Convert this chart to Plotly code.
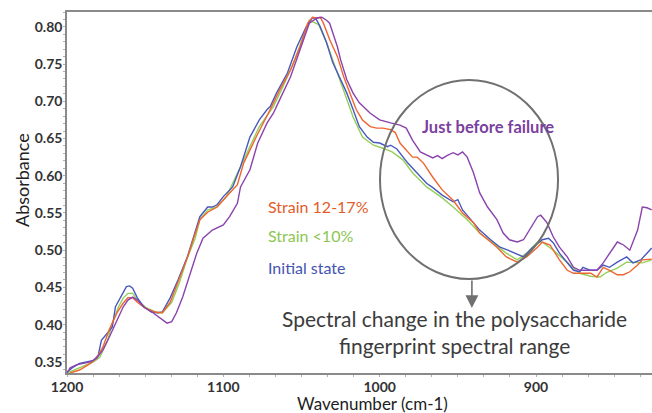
import plotly.graph_objects as go

# ---- data (wavenumber cm-1, absorbance) ----
wn_initial = [1200, 1196, 1192, 1183, 1180, 1178, 1174, 1171, 1169, 1165, 1162, 1160, 1158, 1155, 1151,
              1146, 1142, 1139, 1134, 1129, 1123, 1119, 1115, 1110, 1107, 1104, 1100, 1094, 1089, 1083,
              1077, 1072, 1070, 1066, 1059, 1053, 1047, 1043, 1041, 1038, 1034, 1030, 1025, 1021, 1017,
              1013, 1008, 1004, 1000, 995, 993, 989, 982, 976, 970, 966, 960, 953, 950, 947, 942, 936,
              929, 923, 918, 912, 908, 902, 896, 892, 889, 885, 880, 876, 872, 870, 865, 861, 857, 853,
              848, 842, 838, 833, 829, 826]
abs_initial = [0.336, 0.343, 0.348, 0.352, 0.359, 0.379, 0.389, 0.397, 0.424, 0.440, 0.451, 0.452, 0.449, 0.436, 0.424,
               0.417, 0.416, 0.417, 0.436, 0.460, 0.491, 0.518, 0.545, 0.558, 0.558, 0.561, 0.572, 0.585, 0.612, 0.652,
               0.675, 0.689, 0.693, 0.711, 0.738, 0.773, 0.800, 0.812, 0.812, 0.800, 0.779, 0.752, 0.729, 0.711, 0.689,
               0.666, 0.652, 0.645, 0.644, 0.639, 0.641, 0.636, 0.617, 0.604, 0.590, 0.584, 0.574, 0.565, 0.568, 0.554, 0.541, 0.527,
               0.514, 0.504, 0.500, 0.494, 0.491, 0.504, 0.514, 0.516, 0.510, 0.496, 0.483, 0.473, 0.471, 0.477, 0.473, 0.473, 0.480, 0.477,
               0.484, 0.491, 0.483, 0.487, 0.496, 0.503]

wn_strain10 = [1200, 1192, 1183, 1179, 1174, 1171, 1167, 1164, 1161, 1158, 1155, 1149, 1142, 1139, 1133,
               1128, 1123, 1118, 1115, 1110, 1104, 1098, 1094, 1085, 1077, 1068, 1062, 1055, 1049, 1045,
               1041, 1039, 1034, 1025, 1017, 1011, 1004, 998, 992, 985, 979, 970, 961, 953, 944, 936,
               928, 919, 912, 906, 899, 896, 889, 880, 872, 865, 859, 855, 848, 842, 835, 832, 826]
abs_strain10 = [0.335, 0.342, 0.350, 0.356, 0.379, 0.402, 0.424, 0.436, 0.442, 0.442, 0.433, 0.422, 0.416, 0.416, 0.430,
                0.457, 0.490, 0.516, 0.541, 0.554, 0.558, 0.572, 0.590, 0.631, 0.666, 0.693, 0.719, 0.752, 0.787, 0.809,
                0.805, 0.803, 0.779, 0.725, 0.679, 0.652, 0.641, 0.637, 0.632, 0.621, 0.604, 0.585, 0.572, 0.558, 0.541, 0.523,
                0.510, 0.496, 0.487, 0.496, 0.511, 0.511, 0.500, 0.483, 0.469, 0.465, 0.464, 0.470, 0.476, 0.484, 0.483, 0.483, 0.487]

wn_strain17 = [1198, 1192, 1185, 1181, 1177, 1173, 1168, 1164, 1161, 1158, 1155, 1150, 1144, 1139, 1134,
               1129, 1123, 1119, 1115, 1110, 1104, 1098, 1091, 1087, 1079, 1070, 1064, 1057, 1051, 1046,
               1043, 1040, 1038, 1036, 1032, 1027, 1023, 1019, 1015, 1011, 1006, 1002, 998, 993, 990,
               987, 983, 979, 976, 972, 966, 960, 953, 947, 940, 936, 929, 925, 919, 912, 906, 899,
               896, 891, 885, 880, 876, 872, 865, 861, 857, 853, 848, 844, 840, 835, 832, 826]
abs_strain17 = [0.335, 0.339, 0.348, 0.355, 0.370, 0.393, 0.416, 0.429, 0.436, 0.436, 0.430, 0.422, 0.417, 0.416, 0.430,
                0.457, 0.490, 0.516, 0.541, 0.551, 0.558, 0.572, 0.588, 0.617, 0.652, 0.689, 0.715, 0.742, 0.773, 0.805,
                0.813, 0.812, 0.813, 0.805, 0.783, 0.760, 0.733, 0.711, 0.689, 0.675, 0.666, 0.664, 0.664, 0.662, 0.658,
                0.644, 0.635, 0.625, 0.625, 0.617, 0.598, 0.581, 0.567, 0.550, 0.537, 0.523, 0.511, 0.504, 0.491, 0.484, 0.491, 0.504,
                0.511, 0.507, 0.487, 0.473, 0.469, 0.469, 0.469, 0.464, 0.477, 0.473, 0.467, 0.467, 0.471, 0.480, 0.487, 0.488]

wn_failure = [1200, 1198, 1194, 1190, 1185, 1181, 1177, 1173, 1168, 1164, 1161, 1158, 1155, 1151, 1145,
              1139, 1136, 1133, 1130, 1126, 1121, 1117, 1113, 1107, 1100, 1096, 1091, 1089, 1083, 1078,
              1072, 1068, 1064, 1057, 1051, 1045, 1040, 1037, 1034, 1032, 1030, 1027, 1025, 1021, 1017,
              1013, 1006, 1000, 993, 987, 983, 979, 974, 970, 966, 963, 960, 957, 953, 950, 947, 944,
              940, 936, 931, 925, 921, 917, 912, 908, 904, 899, 897, 893, 889, 885, 880, 876, 872, 867,
              861, 857, 853, 848, 844, 840, 835, 832, 829, 826]
abs_failure = [0.335, 0.342, 0.346, 0.348, 0.350, 0.355, 0.366, 0.383, 0.406, 0.424, 0.433, 0.437, 0.433, 0.424, 0.416,
               0.406, 0.402, 0.404, 0.416, 0.437, 0.469, 0.496, 0.516, 0.527, 0.534, 0.545, 0.563, 0.585, 0.608, 0.644,
               0.671, 0.684, 0.702, 0.733, 0.769, 0.805, 0.812, 0.813, 0.809, 0.805, 0.792, 0.773, 0.756, 0.729, 0.711,
               0.698, 0.684, 0.675, 0.671, 0.668, 0.664, 0.648, 0.632, 0.628, 0.624, 0.627, 0.623, 0.627, 0.631, 0.628, 0.632, 0.625,
               0.604, 0.577, 0.558, 0.541, 0.523, 0.514, 0.511, 0.514, 0.527, 0.545, 0.547, 0.537, 0.518, 0.504, 0.491, 0.477, 0.473, 0.473,
               0.473, 0.483, 0.496, 0.511, 0.507, 0.500, 0.527, 0.558, 0.557, 0.554]

x_ticks = [1200, 1100, 1000, 900]
y_ticks = [0.35, 0.40, 0.45, 0.50, 0.55, 0.60, 0.65, 0.70, 0.75, 0.80]

C_BLUE = "#4858bd"
C_GREEN = "#93d05a"
C_ORANGE = "#ef6530"
C_PURPLE = "#8a43ad"

FONT = "Lato"
W, H = 652, 413
ML, MR, MT, MB = 67, 0, 12, 40
PW, PH = W - ML - MR, H - MT - MB

fig = go.Figure()
for wn, ab, col, name in [
    (wn_strain10, abs_strain10, C_GREEN, "Strain <10%"),
    (wn_initial, abs_initial, C_BLUE, "Initial state"),
    (wn_strain17, abs_strain17, C_ORANGE, "Strain 12-17%"),
    (wn_failure, abs_failure, C_PURPLE, "Just before failure"),
]:
    fig.add_trace(go.Scatter(x=wn, y=ab, mode="lines", name=name,
                             line=dict(color=col, width=1.4), showlegend=False))

# circle around the fingerprint region
fig.add_shape(type="circle", xref="x", yref="y", x0=999.8, x1=885.9, y0=0.4613, y1=0.7288,
              line=dict(color="#707070", width=2))

# arrow from the circle down to the note
fig.add_annotation(x=941, y=0.4223, ax=941, ay=0.4613, xref="x", yref="y", axref="x", ayref="y",
                   text="", showarrow=True, arrowhead=2, arrowsize=1.6, arrowwidth=1.6,
                   arrowcolor="#707070")


def px_to_paper(px, py):
    return (px - ML) / PW, 1 - (py - MT) / PH


labels = [
    (267, 206, "Strain 12-17%", "#e35c28", 16, "left", "normal"),
    (267, 236, "Strain <10%", "#8cc652", 16, "left", "normal"),
    (267, 267, "Initial state", "#4553b2", 16, "left", "normal"),
    (421, 127, "Just before failure", "#7b3f9e", 16.5, "left", "bold"),
    (454, 318, "Spectral change in the polysaccharide", "#3c3c3c", 21, "center", "normal"),
    (454, 345, "fingerprint spectral range", "#3c3c3c", 21, "center", "normal"),
    (372, 403, "Wavenumber (cm-1)", "#222222", 17, "center", "normal"),
]
for px, py, txt, col, size, anc, wt in labels:
    ax_, ay_ = px_to_paper(px, py)
    fig.add_annotation(x=ax_, y=ay_, xref="paper", yref="paper", xanchor=anc, yanchor="middle",
                       showarrow=False, text=txt, borderpad=0,
                       font=dict(family=FONT, size=size, color=col, weight=wt))

ax_, ay_ = px_to_paper(22, 180)
fig.add_annotation(x=ax_, y=ay_, xref="paper", yref="paper", textangle=-90, borderpad=0,
                   showarrow=False, text="Absorbance", xanchor="center", yanchor="middle",
                   font=dict(family=FONT, size=18, color="#222222"))

fig.update_layout(
    width=W, height=H,
    margin=dict(l=ML, r=MR, t=MT, b=MB, autoexpand=False),
    paper_bgcolor="white", plot_bgcolor="white",
    showlegend=False,
)

fig.update_xaxes(range=[1200, 825.8], tickvals=x_ticks, ticktext=[str(v) for v in x_ticks],
                 showgrid=False, zeroline=False, showline=True, linecolor="#8a8a8a", linewidth=1.5,
                 mirror=True, ticks="",
                 minor=dict(dtick=100 / 6, ticks="outside", ticklen=2, tickcolor="#b0b0b0"),
                 tickfont=dict(family=FONT, size=14, color="#333333", weight="bold"))
fig.update_yaxes(range=[0.335, 0.820], tickvals=y_ticks, ticktext=[f"{v:.2f}" for v in y_ticks],
                 showgrid=False, zeroline=False, showline=True, linecolor="#8a8a8a", linewidth=1.5,
                 ticks="",
                 minor=dict(dtick=0.01, ticks="outside", ticklen=2, tickcolor="#b0b0b0"),
                 tickfont=dict(family=FONT, size=14, color="#333333", weight="bold"))

fig.write_html("out.html", config={"displayModeBar": False},
               post_script="document.body.style.margin='0';document.body.style.padding='0';")
